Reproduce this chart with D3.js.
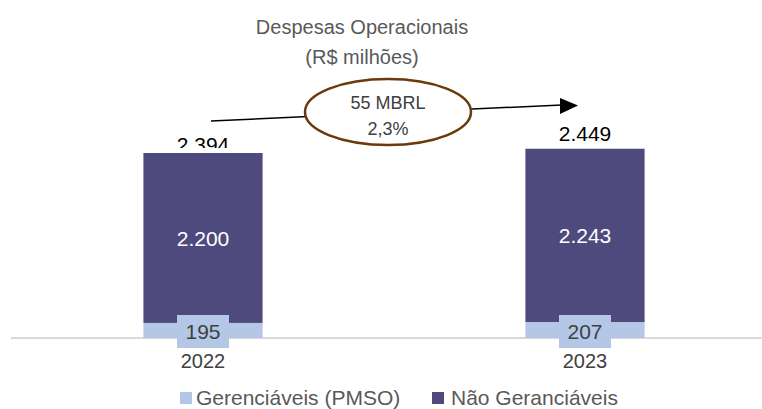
<!DOCTYPE html>
<html><head><meta charset="utf-8">
<script src="https://cdn.jsdelivr.net/npm/d3@7"></script>
<style>body{margin:0;background:#fff}svg{display:block;font-family:"Liberation Sans",Arial,sans-serif}</style>
</head><body><svg id="c" width="762" height="409"></svg>
<script>
const categories = ["2022", "2023"];
const gerenciaveis = [195, 207];
const naoGerenciaveis = [2200, 2243];
const totals = [2394, 2449];
const totalLabels = ["2.394", "2.449"];
const innerLabels = ["2.200", "2.243"];
const baseLabels = ["195", "207"];
const seriesNames = ["Gerenciáveis (PMSO)", "Não Geranciáveis"];
const colors = ["#b4c7e7", "#4f4a7e"];
const titleLines = ["Despesas Operacionais", "(R$ milhões)"];
const bubbleLines = ["55 MBRL", "2,3%"];

const svg = d3.select("#c");
const baseY = 338;
const x = d3.scaleBand().domain(categories).range([12, 776]).paddingInner(0.688).paddingOuter(0.344);
const y = d3.scaleLinear().domain([0, 2394]).range([baseY, 153]);

// title
svg.selectAll("text.title").data(titleLines).join("text")
  .attr("x", 362).attr("y", (d,i)=>34 + i*30).attr("text-anchor","middle")
  .attr("font-size", 20).attr("fill", "#595959").text(d=>d);

// axis
svg.append("line").attr("x1", 11).attr("x2", 762).attr("y1", baseY).attr("y2", baseY)
  .attr("stroke", "#d9d9d9").attr("stroke-width", 2);

// total labels (drawn before bars so bar overlaps)
svg.append("defs").append("clipPath").attr("id","clip0").append("rect")
  .attr("x",0).attr("y",0).attr("width",762).attr("height",148);
svg.selectAll("text.tot").data(categories).join("text")
  .attr("x", d=>x(d)+x.bandwidth()/2)
  .attr("y", (d,i)=> i===0 ? 152 : y(totals[i]) - 8)
  .attr("clip-path", (d,i)=> i===0 ? "url(#clip0)" : null)
  .attr("text-anchor","middle").attr("font-size",21).attr("fill","#000")
  .text((d,i)=>totalLabels[i]);

const stackData = categories.map((c,i)=>({cat:c, g:gerenciaveis[i], n:naoGerenciaveis[i], total: totals[i]}));
// light segment
svg.selectAll("rect.g").data(stackData).join("rect")
  .attr("x", d=>x(d.cat)).attr("width", x.bandwidth())
  .attr("y", d=>y(d.g)).attr("height", d=>baseY - y(d.g)).attr("fill", colors[0]);
// dark segment
svg.selectAll("rect.n").data(stackData).join("rect")
  .attr("x", d=>x(d.cat)).attr("width", x.bandwidth())
  .attr("y", d=>y(d.total)).attr("height", d=>y(d.g) - y(d.total)).attr("fill", colors[1]);

// inner labels
svg.selectAll("text.inner").data(stackData).join("text")
  .attr("x", d=>x(d.cat)+x.bandwidth()/2)
  .attr("y", d=>(y(d.total)+y(d.g))/2 + 8)
  .attr("text-anchor","middle").attr("font-size",21).attr("fill","#fff")
  .text((d,i)=>innerLabels[i]);

// base label boxes
svg.selectAll("rect.lb").data(stackData).join("rect")
  .attr("x", d=>x(d.cat)+x.bandwidth()/2 - 26).attr("width", 52)
  .attr("y", 315).attr("height", 33).attr("fill", colors[0]);
svg.selectAll("text.base").data(stackData).join("text")
  .attr("x", d=>x(d.cat)+x.bandwidth()/2).attr("y", 339)
  .attr("text-anchor","middle").attr("font-size",21).attr("fill","#404040")
  .text((d,i)=>baseLabels[i]);

// year labels
svg.selectAll("text.cat").data(categories).join("text")
  .attr("x", d=>x(d)+x.bandwidth()/2).attr("y", 368)
  .attr("text-anchor","middle").attr("font-size",20).attr("fill","#404040").text(d=>d);

// arrow
svg.append("line").attr("x1", 211).attr("y1", 121).attr("x2", 562).attr("y2", 105)
  .attr("stroke", "#000").attr("stroke-width", 1.5);
svg.append("path").attr("d", "M560,98 L578,105.5 L560,114 Z").attr("fill", "#000");

// ellipse
svg.append("ellipse").attr("cx", 388).attr("cy", 112).attr("rx", 83).attr("ry", 33)
  .attr("fill", "#fff").attr("stroke", "#6b3a0b").attr("stroke-width", 2.5);
svg.selectAll("text.bub").data(bubbleLines).join("text")
  .attr("x", 388).attr("y", (d,i)=>109 + i*26).attr("text-anchor","middle")
  .attr("font-size",18).attr("fill","#404040").text(d=>d);

// legend
const leg = [{x:180, tx:196}, {x:432, tx:451}];
leg.forEach((l,i)=>{
  svg.append("rect").attr("x", l.x).attr("y", 392).attr("width", 12).attr("height", 12).attr("fill", colors[i]);
  svg.append("text").attr("x", l.tx).attr("y", 405).attr("font-size", 21).attr("fill","#595959").text(seriesNames[i]);
});
</script></body></html>
